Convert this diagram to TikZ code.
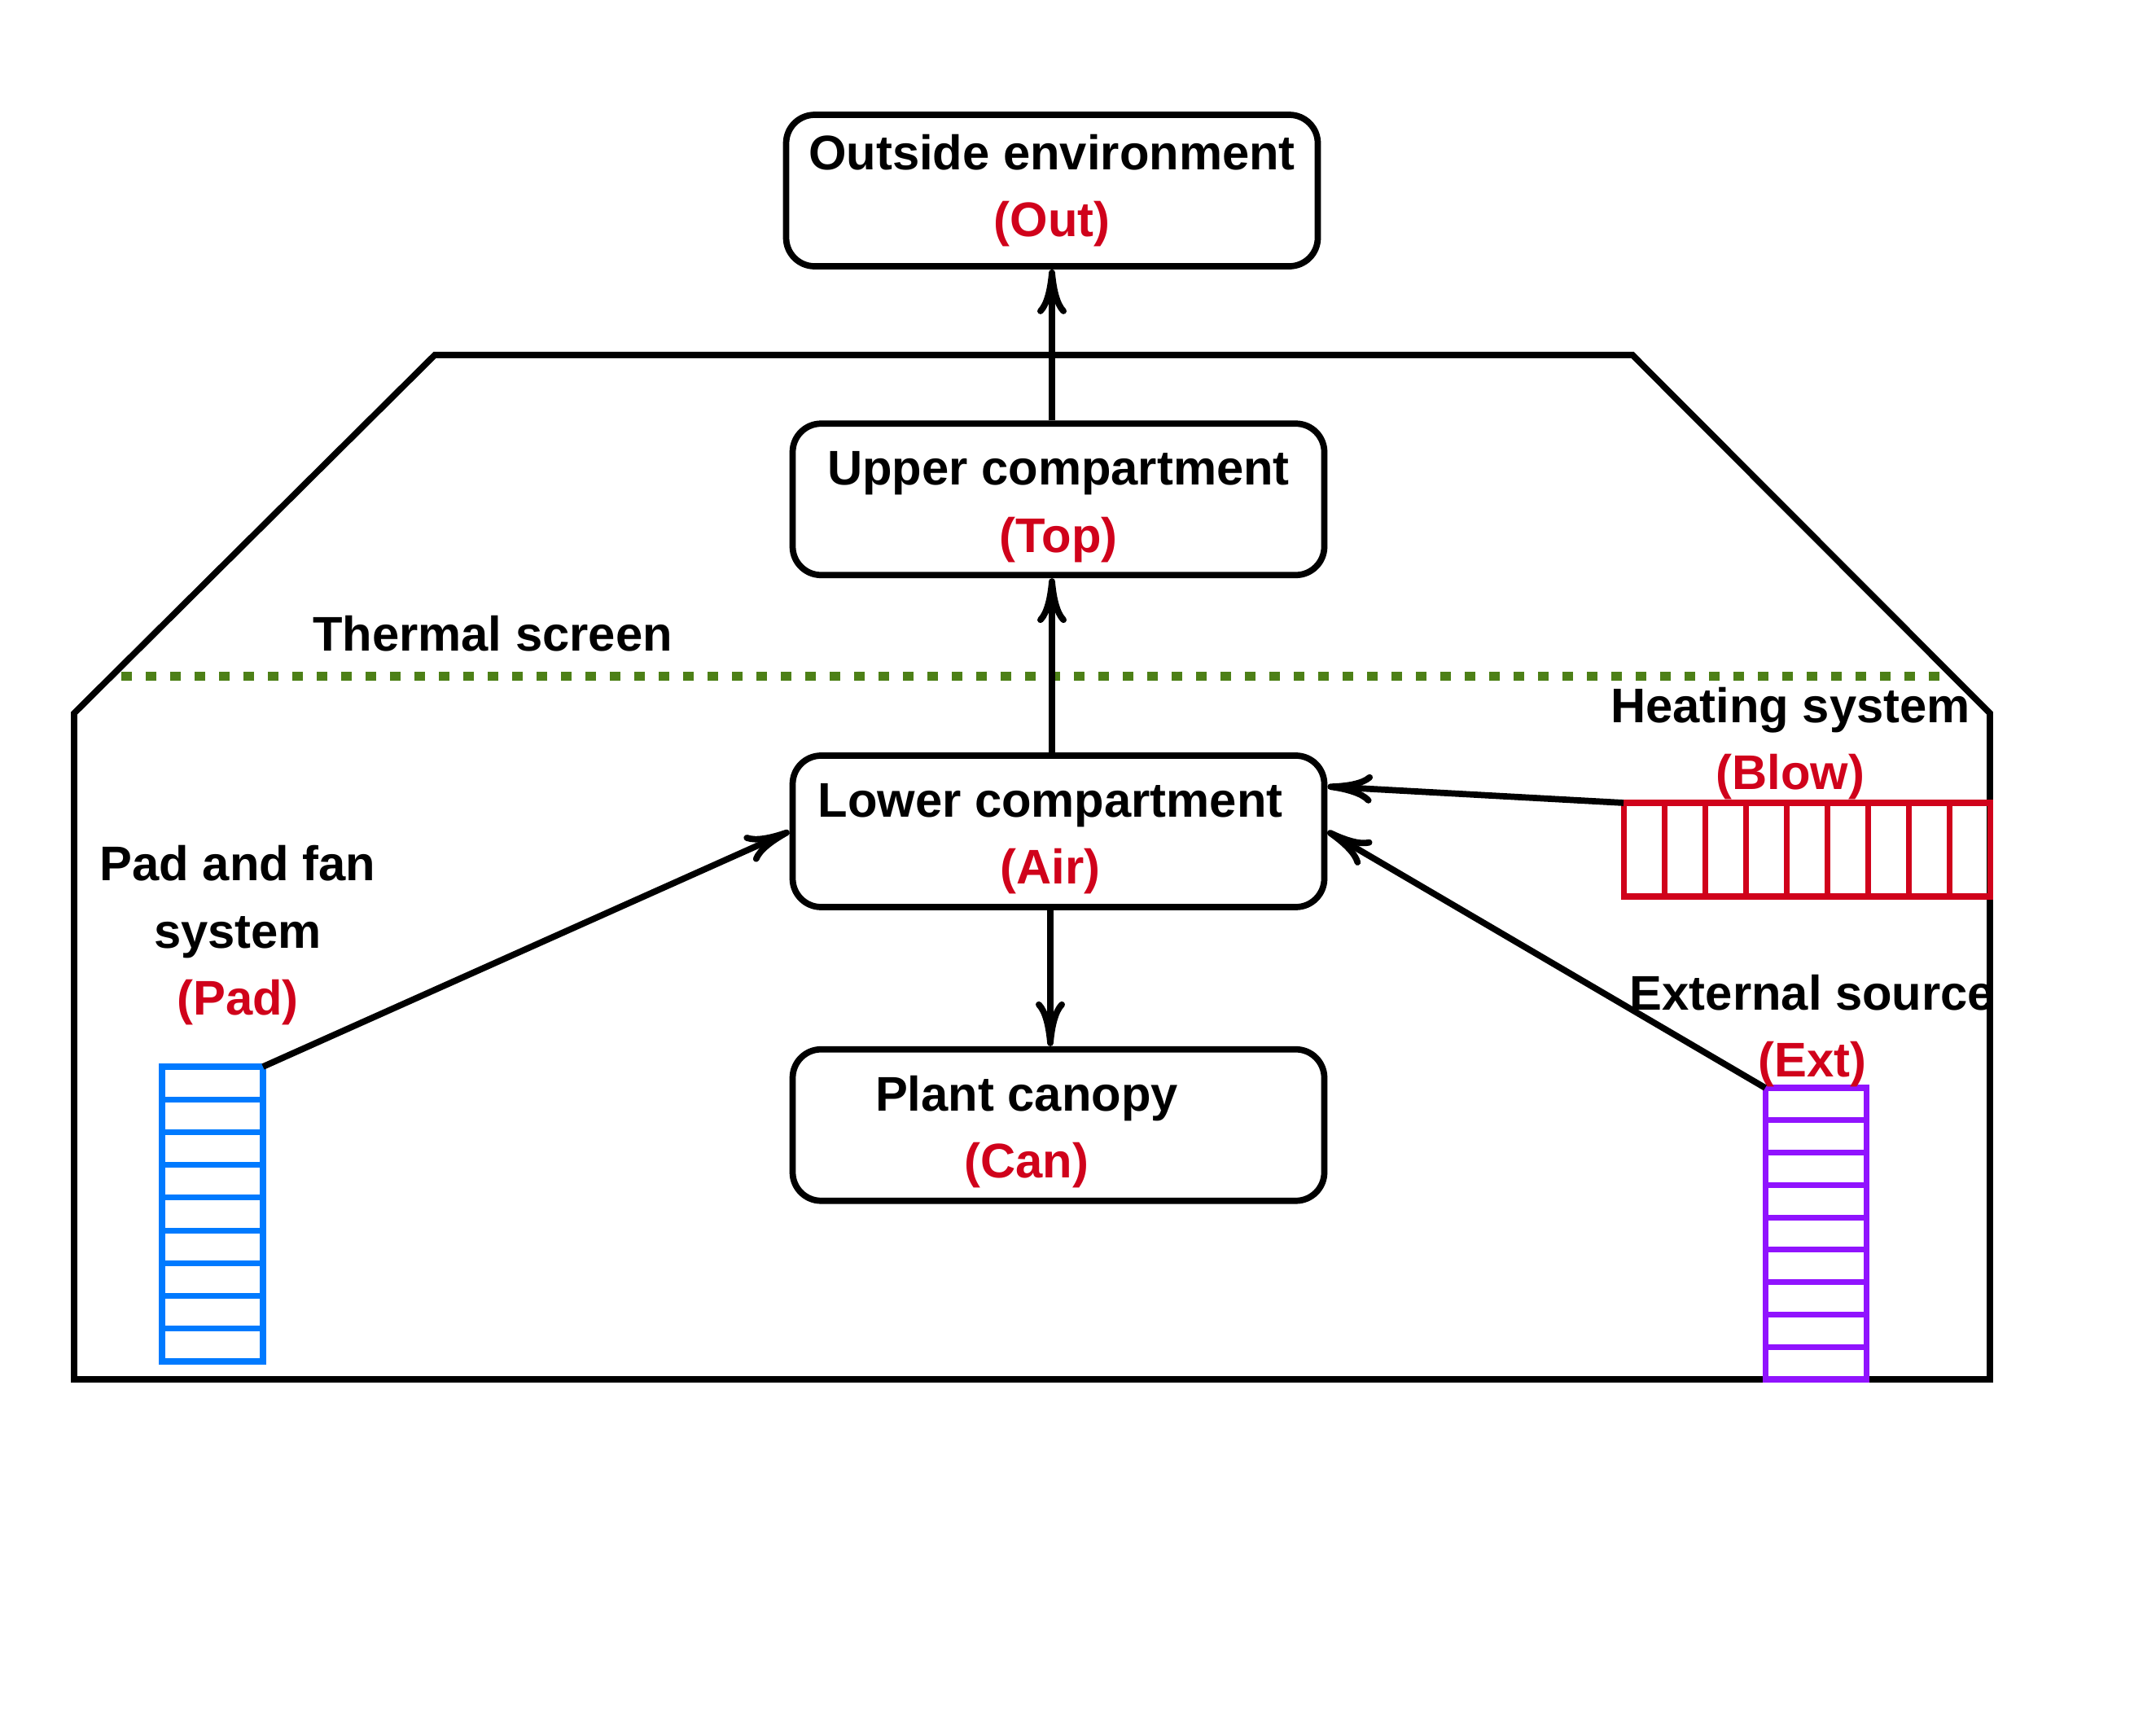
\documentclass[tikz,border=0pt]{standalone}
\usepackage{fontspec}
\setmainfont{Liberation Sans}
\usetikzlibrary{positioning,calc,arrows.meta}
\definecolor{txtred}{RGB}{208,2,27}
\definecolor{scrgreen}{RGB}{77,128,23}
\definecolor{padblue}{RGB}{0,122,255}
\definecolor{extpurple}{RGB}{144,19,254}
\newcommand{\abbrev}[1]{\textcolor{txtred}{(#1)}}
\newcommand{\tallstrut}{\rule{0pt}{17pt}}

\begin{document}
\begin{tikzpicture}[font={\fontsize{17}{23.5}\selectfont\bfseries},comp/.style={draw, line width=2.2pt, rounded corners=0.35cm, minimum width=6.53cm, minimum height=1.86cm, align=center},lbl/.style={align=center, inner sep=0pt},flow/.style={line width=2.2pt, -{To[length=5.5mm,width=3.6mm]}},cellbox/.style={draw, line width=2pt, inner sep=0pt, outer sep=0pt}]
\useasboundingbox (0,0) rectangle (26.48,21.04);
\draw[line width=2.2pt] (0.91,4.10) -- (24.44,4.10) -- (24.44,12.28) -- (20.05,16.68) -- (5.34,16.68) -- (0.91,12.28) -- cycle;
\draw[scrgreen, line width=0.11cm, dash pattern=on 0.13cm off 0.17cm] (1.49,12.73) -- (23.98,12.73);
\node[lbl] (scrlbl) at (6.05,13.26) {Thermal screen};
\node[comp] (air) at (13.00,10.83) {\tallstrut Lower compartment\hspace*{0.2cm}\\\abbrev{Air}\hspace*{0.2cm}};
\node[comp, above=2.14cm of air] (top) {\tallstrut Upper compartment\\\abbrev{Top}};
\node[comp, above=1.855cm of top, xshift=-0.08cm] (out) {Outside environment\\\abbrev{Out}};
\node[comp, below=1.67cm of air] (can) {\tallstrut Plant canopy\hspace*{0.78cm}\\\abbrev{Can}\hspace*{0.78cm}};
\node[cellbox, padblue, minimum width=1.24cm, minimum height=3.62cm] (pad) at (2.61,6.13) {};
\node[cellbox, extpurple, minimum width=1.24cm, minimum height=3.58cm] (ext) at (22.30,5.89) {};
\node[cellbox, txtred, minimum width=4.50cm, minimum height=1.15cm] (blow) at (22.19,10.605) {};
\foreach \i in {1,...,8}{
  \draw[padblue, line width=2pt] ($(pad.south west)!\i/9!(pad.north west)$) -- ($(pad.south east)!\i/9!(pad.north east)$);
  \draw[extpurple, line width=2pt] ($(ext.south west)!\i/9!(ext.north west)$) -- ($(ext.south east)!\i/9!(ext.north east)$);
  \draw[txtred, line width=2pt] ($(blow.south west)!\i/9!(blow.south east)$) -- ($(blow.north west)!\i/9!(blow.north east)$);
}
\node[lbl, above=0.5cm of pad, xshift=0.31cm] (padlbl) {Pad and fan\\system\\\abbrev{Pad}};
\node[lbl, above=0.03cm of blow, xshift=-0.2cm] (blowlbl) {Heating system\\\abbrev{Blow}};
\node[lbl, above=0cm of ext, xshift=-0.04cm] (extlbl) {External source\\\abbrev{Ext}};
\draw[flow] (top.north -| out.south) -- (out.south);
\draw[flow] (air.north -| out.south) -- (top.south -| out.south);
\draw[flow] ([xshift=-0.1cm]air.south) -- ([xshift=-0.1cm]can.north);
\draw[flow] (pad.north east) -- (air.west);
\draw[flow] (blow.north west) -- ([yshift=0.55cm]air.east);
\draw[flow] (ext.north west) -- (air.east);
\end{tikzpicture}
\end{document}
